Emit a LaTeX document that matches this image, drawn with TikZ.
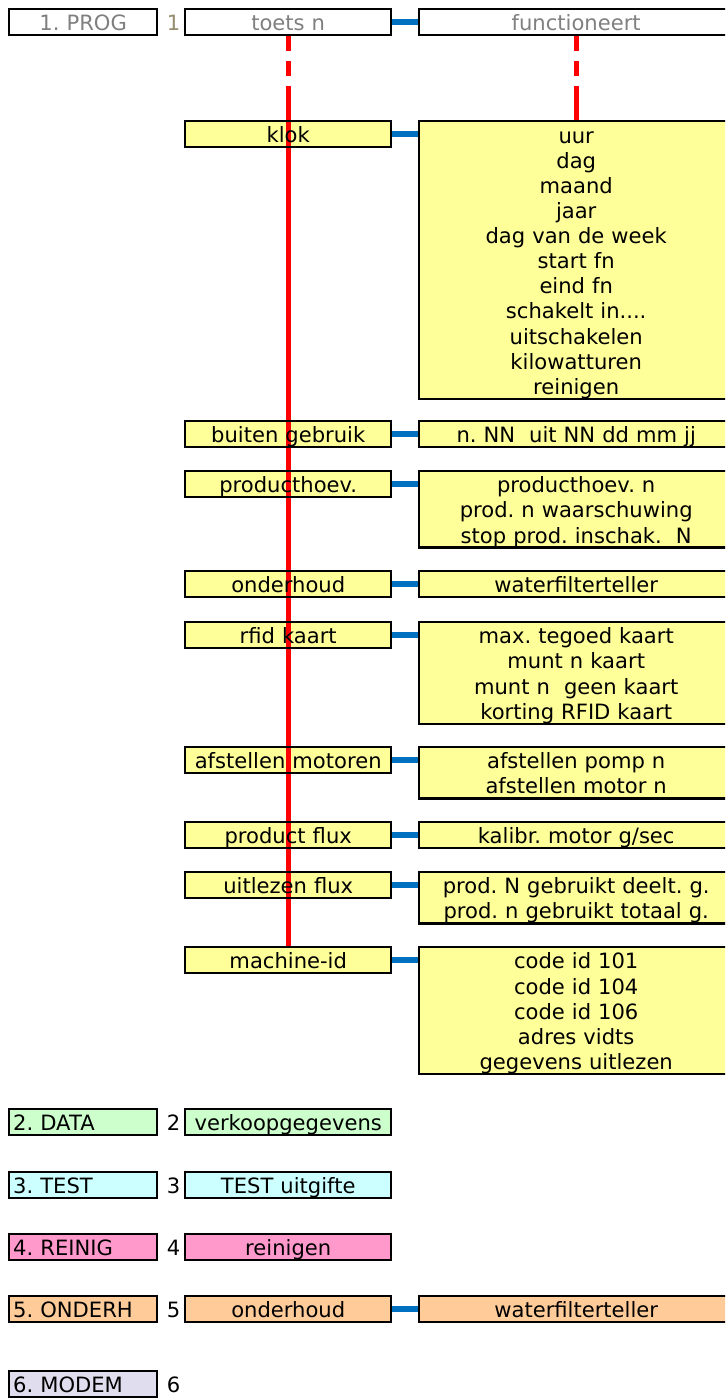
\documentclass[tikz,border=0pt]{standalone}
\usepackage{fontspec}
\setmainfont{DejaVu Sans}
\frenchspacing
\usetikzlibrary{positioning}

\definecolor{menuyellow}{RGB}{255,255,153}
\definecolor{menugreen}{RGB}{204,255,204}
\definecolor{menucyan}{RGB}{204,255,255}
\definecolor{menupink}{RGB}{255,153,204}
\definecolor{menuorange}{RGB}{255,204,153}
\definecolor{menulilac}{RGB}{224,222,238}
\definecolor{linkblue}{RGB}{0,112,192}
\definecolor{numgray}{RGB}{150,140,110}

\tikzset{
  menubox/.style={draw, line width=1.4pt, inner xsep=0pt, inner ysep=0pt,
    anchor=north west, align=center, font=\fontsize{12}{14.3}\selectfont,
    execute at begin node=\rule{0pt}{12.2pt},
    execute at end node=\rule[-2.5pt]{0pt}{2.5pt},
    minimum height={0.52cm+#1*0.504cm}},
  menubox/.default=0,
  keybox/.style={menubox=#1, text width=4.12cm, fill=menuyellow},
  keybox/.default=0,
  valbox/.style={menubox=#1, text width=6.28cm, fill=menuyellow},
  valbox/.default=0,
  modebox/.style={menubox, text width=2.8cm, inner xsep=0.08cm, align=left},
  numlbl/.style={inner sep=0pt, anchor=base west, font=\fontsize{12}{14.3}\selectfont},
  link/.style={linkblue, line width=3.4pt},
  progline/.style={red, line width=2.8pt,
    dash pattern=on 8.5pt off 5.7pt on 8.5pt off 5.7pt on 600pt}
}

\begin{document}
\begin{tikzpicture}[x=0.02cm, y=-0.02cm]
  \useasboundingbox (0,0) rectangle (725,1398);
  \clip (0,0) rectangle (725,1398);
  % 1. PROG
  \node[modebox, align=center, fill=white, text=gray] (prog) at (8,8) {1. PROG};
  \node[numlbl, text=numgray] (num1) at ([xshift=0.16cm]prog.base east) {1};
  \node[keybox, fill=white, text=gray] (toets) at (184,8) {toets n};
  \node[valbox, fill=white, text=gray] (funct) at (418,8) {functioneert};
  %
  \node[keybox] (klok) at (184,120) {klok};
  \node[valbox=10] (klokv) at (418,120) {uur\\dag\\maand\\jaar\\dag van de week\\start fn\\eind fn\\schakelt in....\\uitschakelen\\kilowatturen\\reinigen};
  \node[keybox] (buiten) at (184,420) {buiten gebruik};
  \node[valbox] (buitenv) at (418,420) {n. NN~~uit NN dd mm jj};
  \node[keybox] (prodh) at (184,470) {producthoev.};
  \node[valbox=2] (prodhv) at (418,470) {producthoev. n\\prod. n waarschuwing\\stop prod. inschak.~~N};
  \node[keybox] (onderh) at (184,570) {onderhoud};
  \node[valbox] (onderhv) at (418,570) {waterfilterteller};
  \node[keybox] (rfid) at (184,621) {rfid kaart};
  \node[valbox=3] (rfidv) at (418,621) {max. tegoed kaart\\munt n kaart\\munt n~~geen kaart\\korting RFID kaart};
  \node[keybox] (afst) at (184,746) {afstellen motoren};
  \node[valbox=1] (afstv) at (418,746) {afstellen pomp n\\afstellen motor n};
  \node[keybox] (flux) at (184,821) {product flux};
  \node[valbox] (fluxv) at (418,821) {kalibr. motor g/sec};
  \node[keybox] (uitl) at (184,871) {uitlezen flux};
  \node[valbox=1] (uitlv) at (418,871) {prod. N gebruikt deelt. g.\\prod. n gebruikt totaal g.};
  \node[keybox] (machid) at (184,946) {machine-id};
  \node[valbox=4] (machidv) at (418,946) {code id 101\\code id 104\\code id 106\\adres vidts\\gegevens uitlezen};
  %
  \begin{scope}[blend mode=multiply]
    \draw[progline] (toets.south) -- (machid.north);
    \draw[progline] (funct.south) -- (klokv.north);
  \end{scope}
  % other modes
  \node[modebox, fill=menugreen] (data) at (8,1108) {2. DATA};
  \node[keybox, fill=menugreen] (verkoop) at (184,1108) {verkoopgegevens};
  \node[modebox, fill=menucyan] (test) at (8,1171) {3. TEST};
  \node[keybox, fill=menucyan] (testv) at (184,1171) {TEST uitgifte};
  \node[modebox, fill=menupink] (reinig) at (8,1233) {4. REINIG};
  \node[keybox, fill=menupink] (reinigv) at (184,1233) {reinigen};
  \node[modebox, fill=menuorange] (onderh5) at (8,1295) {5. ONDERH};
  \node[keybox, fill=menuorange] (onderh5k) at (184,1295) {onderhoud};
  \node[valbox, fill=menuorange] (onderh5v) at (418,1295) {waterfilterteller};
  \node[modebox, fill=menulilac] (modem) at (8,1370) {6. MODEM};
  \foreach \m/\n in {data/2,test/3,reinig/4,onderh5/5,modem/6}
    {\node[numlbl] (num\n) at ([xshift=0.16cm]\m.base east) {\n};}
  %
  \foreach \k/\v in {toets/funct,klok/klokv,buiten/buitenv,prodh/prodhv,onderh/onderhv,
      rfid/rfidv,afst/afstv,flux/fluxv,uitl/uitlv,machid/machidv,onderh5k/onderh5v}
    {\draw[link] (\k.east) -- (\k.east -| \v.west);}
\end{tikzpicture}
\end{document}
